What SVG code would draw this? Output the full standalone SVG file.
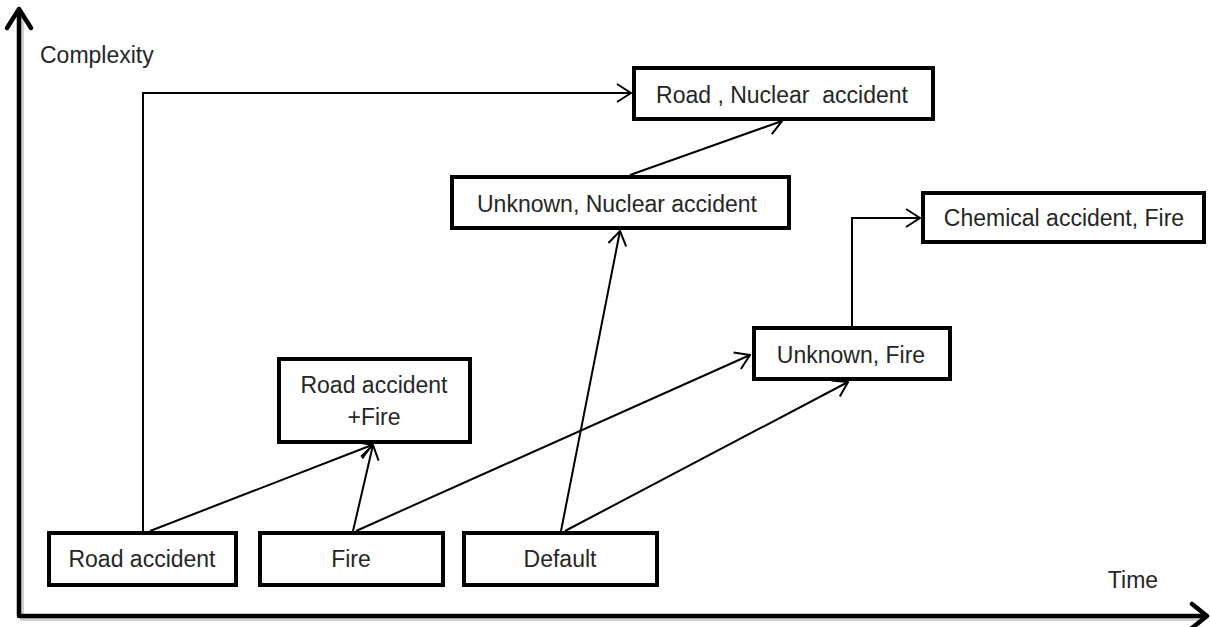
<svg xmlns="http://www.w3.org/2000/svg" width="1210" height="627" viewBox="0 0 1210 627">
  <style>
    .box { fill: #ffffff; stroke: #000000; stroke-width: 4; }
    .lbl { font-family: "Liberation Sans", Arial, sans-serif; font-size: 23px; fill: #262626; text-anchor: middle; white-space: pre; }
    .axis-lbl { font-family: "Liberation Sans", Arial, sans-serif; font-size: 23px; fill: #262626; }
    .axis { fill: none; stroke: #000000; stroke-width: 4.5; stroke-linejoin: round; stroke-linecap: round; }
    .axis-shadow { fill: none; stroke: #9a9a9a; stroke-width: 4; opacity: 0.45; }
    .conn { fill: none; stroke: #000000; stroke-width: 2; }
  </style>
  <defs>
    <marker id="open-arrow" viewBox="0 0 16 20" refX="15" refY="10" markerWidth="16" markerHeight="20" markerUnits="userSpaceOnUse" orient="auto">
      <path d="M1,1 L15,10 L1,19" fill="none" stroke="#000000" stroke-width="2"/>
    </marker>
  </defs>

  <rect width="1210" height="627" fill="#ffffff"/>

  <!-- axes -->
  <g id="axes">
    <path class="axis-shadow" d="M22,14 L22,619 L1205,619"/>
    <path class="axis" d="M19,10 L19,616 L1206,616"/>
    <path class="axis" d="M7,28 L19,9 L31,28"/>
    <path class="axis" d="M1192,604 L1207,616 L1192,628"/>
    <text class="axis-lbl" x="40" y="63">Complexity</text>
    <text class="axis-lbl" x="1133" y="588" text-anchor="middle">Time</text>
  </g>

  <!-- connectors -->
  <g id="connectors">
    <polyline class="conn" points="143,531 143,93 631,93" marker-end="url(#open-arrow)"/>
    <line class="conn" x1="150" y1="531" x2="372" y2="445" marker-end="url(#open-arrow)"/>
    <line class="conn" x1="353" y1="531" x2="373" y2="445" marker-end="url(#open-arrow)"/>
    <line class="conn" x1="356" y1="531" x2="750" y2="355" marker-end="url(#open-arrow)"/>
    <line class="conn" x1="561" y1="531" x2="620" y2="231" marker-end="url(#open-arrow)"/>
    <line class="conn" x1="565" y1="531" x2="848" y2="382" marker-end="url(#open-arrow)"/>
    <line class="conn" x1="630" y1="175" x2="782" y2="121" marker-end="url(#open-arrow)"/>
    <polyline class="conn" points="852,327 852,218 920,218" marker-end="url(#open-arrow)"/>
  </g>

  <!-- nodes -->
  <g id="road-accident">
    <rect class="box" x="49" y="533" width="187" height="52"/>
    <text class="lbl" x="142" y="567">Road accident</text>
  </g>
  <g id="fire">
    <rect class="box" x="260" y="533" width="183" height="52"/>
    <text class="lbl" x="351" y="567">Fire</text>
  </g>
  <g id="default">
    <rect class="box" x="464" y="533" width="193" height="52"/>
    <text class="lbl" x="560" y="567">Default</text>
  </g>
  <g id="road-accident-fire">
    <rect class="box" x="279" y="359" width="191" height="83"/>
    <text class="lbl" x="374" y="393">Road accident</text>
    <text class="lbl" x="374" y="425">+Fire</text>
  </g>
  <g id="unknown-nuclear">
    <rect class="box" x="452" y="177" width="337" height="51"/>
    <text class="lbl" x="617" y="212">Unknown, Nuclear accident</text>
  </g>
  <g id="road-nuclear">
    <rect class="box" x="634" y="68" width="299" height="51"/>
    <text class="lbl" x="782" y="103">Road , Nuclear  accident</text>
  </g>
  <g id="unknown-fire">
    <rect class="box" x="754" y="328" width="196" height="51"/>
    <text class="lbl" x="851" y="363">Unknown, Fire</text>
  </g>
  <g id="chemical-fire">
    <rect class="box" x="923" y="193" width="281" height="49"/>
    <text class="lbl" x="1064" y="226">Chemical accident, Fire</text>
  </g>
</svg>
